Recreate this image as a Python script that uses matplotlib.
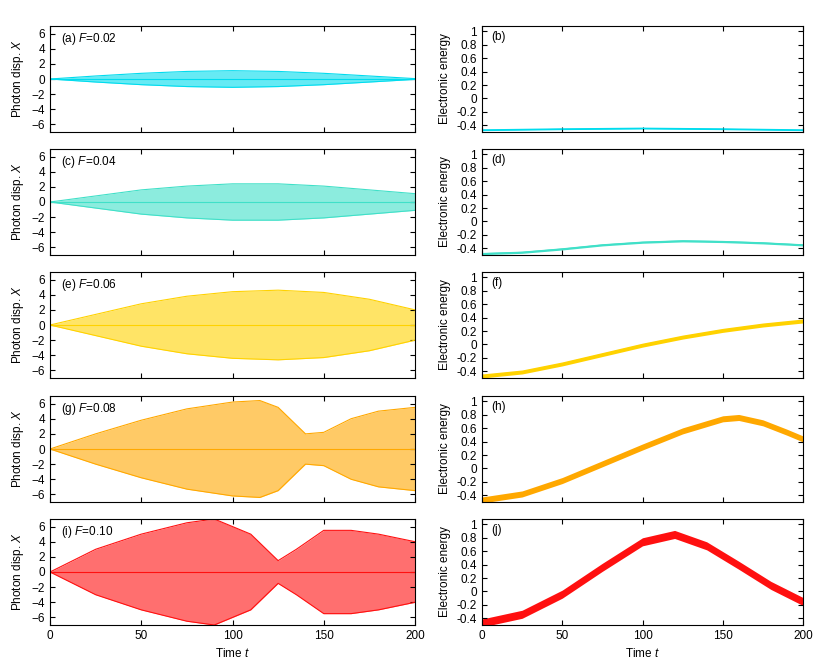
import matplotlib.pyplot as plt
import numpy as np

# envelopes: (times, amplitude) for photon displacement X
forces = ['0.02', '0.04', '0.06', '0.08', '0.10']
colors = ['#00dcee', '#40e0c8', '#ffd200', '#ffa800', '#ff1010']

x_t = [
    [0, 25, 50, 75, 100, 125, 150, 175, 200],
    [0, 25, 50, 75, 100, 125, 150, 175, 200],
    [0, 25, 50, 75, 100, 125, 150, 175, 200],
    [0, 25, 50, 75, 100, 115, 125, 140, 150, 165, 180, 200],
    [0, 25, 50, 75, 90, 110, 125, 135, 150, 165, 180, 200],
]
x_amp = [
    [0, 0.4, 0.75, 1.0, 1.1, 1.0, 0.75, 0.4, 0.05],
    [0, 0.8, 1.6, 2.1, 2.4, 2.4, 2.1, 1.6, 1.1],
    [0, 1.4, 2.8, 3.8, 4.4, 4.6, 4.3, 3.4, 2.0],
    [0, 2.0, 3.8, 5.3, 6.2, 6.4, 5.5, 2.0, 2.2, 4.0, 5.0, 5.5],
    [0, 3.0, 5.0, 6.5, 7.0, 5.0, 1.5, 3.0, 5.5, 5.5, 5.0, 4.0],
]

# electronic energy band: (times, centre, half-width)
e_t = [
    [0, 50, 100, 150, 200],
    [0, 25, 50, 75, 100, 125, 150, 175, 200],
    [0, 25, 50, 75, 100, 125, 150, 175, 200],
    [0, 25, 50, 75, 100, 125, 150, 160, 175, 190, 200],
    [0, 25, 50, 75, 100, 120, 140, 160, 180, 200],
]
e_mid = [
    [-0.47, -0.455, -0.445, -0.455, -0.47],
    [-0.48, -0.46, -0.41, -0.35, -0.31, -0.29, -0.30, -0.32, -0.35],
    [-0.47, -0.41, -0.29, -0.15, -0.01, 0.11, 0.21, 0.29, 0.35],
    [-0.47, -0.38, -0.18, 0.07, 0.32, 0.56, 0.74, 0.76, 0.68, 0.54, 0.44],
    [-0.47, -0.34, -0.04, 0.36, 0.74, 0.85, 0.68, 0.39, 0.09, -0.15],
]
e_half = [0.01, 0.015, 0.03, 0.045, 0.06]

plt.rcParams['font.family'] = ['Liberation Sans', 'DejaVu Sans']
plt.rcParams['font.size'] = 8.5
plt.rcParams['mathtext.fontset'] = 'custom'
plt.rcParams['mathtext.it'] = 'Liberation Sans:italic'

fig = plt.figure(figsize=(8.3, 6.64), dpi=100)
tops = [26, 149, 272, 396, 519]
letters = 'abcdefghij'
for i in range(5):
    bottom = 1 - (tops[i] + 106) / 664
    axl = fig.add_axes([50 / 830, bottom, 365 / 830, 106 / 664])
    axr = fig.add_axes([482 / 830, bottom, 321 / 830, 106 / 664])
    c = colors[i]

    t = np.array(x_t[i])
    a = np.array(x_amp[i])
    axl.fill_between(t, -a, a, color=c, alpha=0.6, lw=0)
    axl.plot(t, a, color=c, lw=0.8)
    axl.plot(t, -a, color=c, lw=0.8)
    axl.plot([0, 200], [0, 0], color=c, lw=0.8)
    axl.set_xlim(0, 200)
    axl.set_ylim(-7, 7)
    axl.set_yticks(range(-6, 7, 2))
    axl.set_ylabel('Photon disp. $X$')
    axl.text(0.03, 0.95, f'({letters[2 * i]}) $F$={forces[i]}',
             transform=axl.transAxes, va='top')

    te = np.array(e_t[i])
    m = np.array(e_mid[i])
    axr.fill_between(te, m - e_half[i], m + e_half[i], color=c, lw=0)
    axr.plot(te, m, color=c, lw=1)
    axr.set_xlim(0, 200)
    axr.set_ylim(-0.5, 1.08)
    axr.set_yticks(np.round(np.arange(-0.4, 1.01, 0.2), 1))
    axr.set_yticklabels(['-0.4', '-0.2', '0', '0.2', '0.4', '0.6', '0.8', '1'])
    axr.set_ylabel('Electronic energy')
    axr.text(0.03, 0.95, f'({letters[2 * i + 1]})', transform=axr.transAxes, va='top')

    for ax in (axl, axr):
        ax.set_xticks(range(0, 201, 50))
        ax.tick_params(direction='in', top=True, right=True)
        if i < 4:
            ax.set_xticklabels([])
        else:
            ax.set_xlabel('Time $t$')

fig.savefig('out.png', dpi=100)
